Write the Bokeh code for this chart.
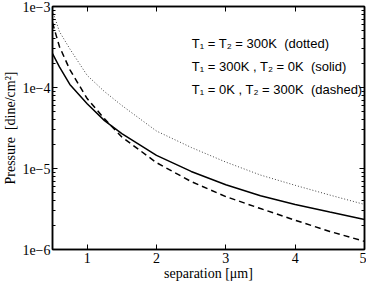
from bokeh.plotting import figure
from bokeh.models import (LogAxis, LinearAxis, FixedTicker, CustomJSTickFormatter, Label, Range1d,
                          CustomLabelingPolicy)
from bokeh.embed import file_html
from bokeh.resources import INLINE

separation = [0.5, 0.6, 0.75, 1.0, 1.25, 1.5, 2.0, 2.5, 3.0, 3.5, 4.0, 4.5, 5.0]
p_dotted = [8.9e-4, 4.9e-4, 3.0e-4, 1.41e-4, 8.9e-5, 6.0e-5, 2.9e-5, 1.82e-5, 1.2e-5, 8.3e-6, 6.2e-6, 4.7e-6, 3.6e-6]
p_solid = [2.63e-4, 1.8e-4, 1.09e-4, 6.3e-5, 3.9e-5, 2.7e-5, 1.45e-5, 9.2e-6, 6.3e-6, 4.6e-6, 3.6e-6, 2.9e-6, 2.35e-6]
p_dashed = [6.3e-4, 3.2e-4, 1.66e-4, 7.3e-5, 4.1e-5, 2.45e-5, 1.18e-5, 6.9e-6, 4.5e-6, 3.2e-6, 2.3e-6, 1.67e-6, 1.26e-6]

x_ticks = [1, 2, 3, 4, 5]
y_ticks = [1e-6, 1e-5, 1e-4, 1e-3]
y_tick_labels = ["1e\u22126", "1e\u22125", "1e\u22124", "1e\u22123"]
y_minor = [m * 10.0 ** e for e in (-6, -5, -4) for m in range(2, 10)]

legend_texts = ["T\u2081 = T\u2082 = 300K\u00a0\u00a0(dotted)",
                "T\u2081 = 300K , T\u2082 = 0K\u00a0\u00a0(solid)",
                "T\u2081 = 0K , T\u2082 = 300K\u00a0\u00a0(dashed)"]
legend_y = [3.49e-4, 1.82e-4, 9.4e-5]

SERIF = "Liberation Serif"
SANS = "Liberation Sans"

p = figure(width=366, height=283, output_backend="svg", toolbar_location=None,
           x_range=Range1d(0.5, 5), y_range=Range1d(1e-6, 1e-3), y_axis_type="log",
           min_border_left=40, min_border_right=2, min_border_top=6, min_border_bottom=20)
p.grid.visible = False
p.outline_line_color = "black"
p.outline_line_width = 1.5

yticker = FixedTicker(ticks=y_ticks, minor_ticks=y_minor)
xticker = FixedTicker(ticks=x_ticks)
yfmt = CustomJSTickFormatter(args=dict(vals=y_ticks, labs=y_tick_labels), code="""
let best = 0, bd = 1e9;
for (let i = 0; i < vals.length; i++) {
  const d = Math.abs(Math.log10(tick) - Math.log10(vals[i]));
  if (d < bd) { bd = d; best = i; }
}
return labs[best];
""")
blank = CustomJSTickFormatter(code="return '';")
hide_all = CustomLabelingPolicy(code="""
const n = indices.size;
for (let i = 0; i < n; i++) { indices.unset(i); }
return indices;
""")

def style(ax):
    ax.axis_line_color = "black"
    ax.axis_line_width = 1.5
    ax.major_tick_in = 5
    ax.major_tick_out = 0
    ax.minor_tick_in = 3
    ax.minor_tick_out = 0
    ax.major_tick_line_color = "black"
    ax.minor_tick_line_color = "black"
    ax.major_label_text_font = SERIF
    ax.major_label_text_font_size = "14px"
    ax.major_label_text_color = "black"
    ax.axis_label_text_font = SERIF
    ax.axis_label_text_font_size = "14px"
    ax.axis_label_text_font_style = "normal"
    ax.axis_label_text_color = "black"

p.yaxis.ticker = yticker
p.yaxis.formatter = yfmt
p.xaxis.ticker = xticker
style(p.xaxis[0])
style(p.yaxis[0])
p.xaxis.axis_label = "separation [\u03bcm]"
p.yaxis.axis_label = "Pressure\u00a0\u00a0[dine/cm\u00b2]"
p.xaxis.major_label_standoff = 3
p.yaxis.major_label_standoff = 2
p.xaxis.axis_label_standoff = 0
p.yaxis.axis_label_standoff = 1

ra = LogAxis(ticker=yticker, formatter=blank, major_label_policy=hide_all)
style(ra)
ra.major_label_standoff = 0
p.add_layout(ra, "right")
ta = LinearAxis(ticker=xticker, formatter=blank, major_label_policy=hide_all)
style(ta)
ta.major_label_standoff = 0
p.add_layout(ta, "above")

p.line(separation, p_dotted, line_color="#444444", line_width=1, line_dash="1 2")
p.line(separation, p_solid, line_color="black", line_width=1.5)
p.line(separation, p_dashed, line_color="black", line_width=1.5, line_dash="6 4")

for t, yv in zip(legend_texts, legend_y):
    p.add_layout(Label(x=2.51, y=yv, text=t, text_font=SANS, text_font_size="13px",
                       text_color="black", text_baseline="alphabetic"))

open("out.html", "w").write(file_html(p, INLINE))
